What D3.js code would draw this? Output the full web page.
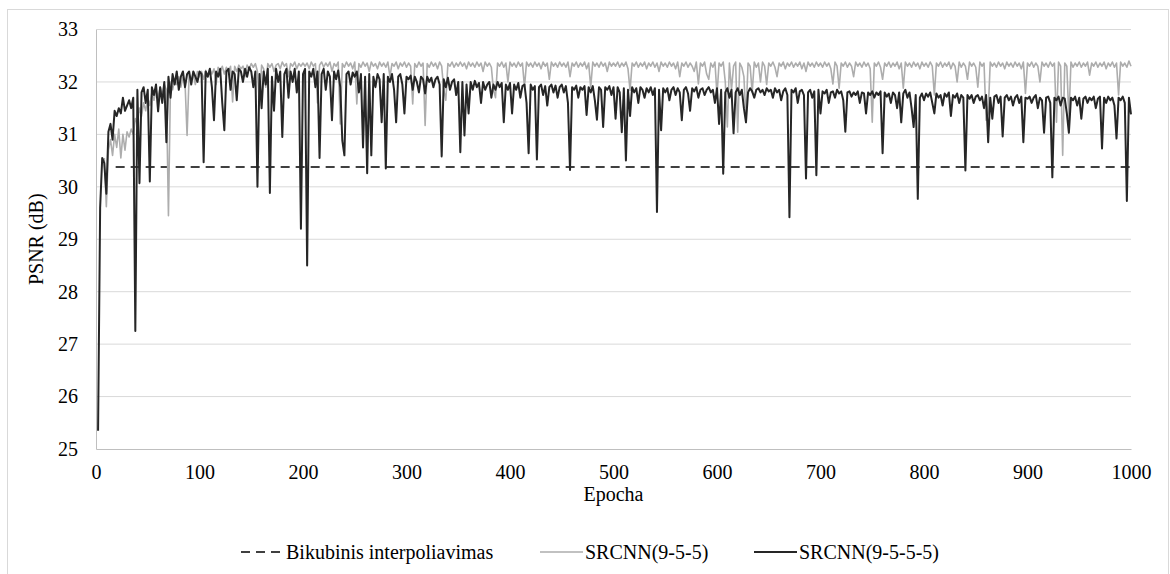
<!DOCTYPE html>
<html>
<head>
<meta charset="utf-8">
<script src="https://cdn.jsdelivr.net/npm/d3@7"></script>
<style>
  body { margin: 0; background: #fff; }
  svg, svg text { font-family: "Liberation Serif", "Times New Roman", Tinos, "DejaVu Serif", serif; }
</style>
</head>
<body>
<div class="chart"></div>
<script>
// epochs are 2, 4, ..., 1000 (one value every second epoch)
var epochStep = 2;
var serif = "'Liberation Serif', 'Times New Roman', Tinos, 'DejaVu Serif', serif";

// SRCNN(9-5-5-5) - black line
var srcnn5555 = [
  25.35, 29.6, 30.55, 30.45, 29.87, 31.05, 31.2, 30.9, 31.45, 31.35, 31.5, 31.4, 31.7, 31.45, 31.55, 31.65, 31.5, 31.7, 27.25, 31.85, 30.07, 31.8, 31.9, 31.6, 31.85,
  30.1, 31.9, 31.75, 31.95, 31.44, 31.9, 31.6, 32.0, 30.85, 32.1, 31.7, 32.15, 31.95, 32.2, 31.85, 32.1, 32.2, 31.9, 32.15, 32.2, 31.95, 32.2, 32.1, 32.0, 32.2,
  32.15, 30.47, 32.2, 32.1, 32.25, 31.9, 31.27, 32.2, 32.1, 32.25, 31.6, 31.08, 32.2, 32.25, 31.85, 32.2, 32.15, 31.65, 32.25, 32.2, 32.0, 32.25, 32.1, 32.28, 32.2,
  31.9, 32.2, 30.0, 32.15, 31.5, 32.2, 31.95, 32.25, 29.88, 32.1, 31.45, 32.25, 32.0, 32.2, 30.95, 32.15, 32.25, 31.7, 32.2, 32.0, 32.25, 31.8, 32.2, 29.2, 32.15,
  32.25, 28.5, 32.2, 32.1, 32.25, 31.9, 32.2, 30.55, 32.15, 32.25, 31.85, 32.2, 32.1, 31.27, 32.2, 32.05, 32.22, 31.9, 30.88, 30.6, 32.15, 32.2, 31.95, 32.18, 32.1,
  32.2, 31.8, 32.15, 30.75, 32.1, 30.26, 32.15, 30.6, 32.1, 31.9, 32.15, 32.05, 31.23, 32.15, 30.35, 32.1, 32.0, 32.15, 31.85, 31.23, 32.1, 32.15, 31.95, 31.4, 32.1,
  32.05, 32.12, 31.85, 32.1, 32.0, 31.8, 32.1, 32.05, 31.78, 32.1, 32.0, 32.08, 31.9, 32.05, 32.1, 31.95, 30.58, 32.05, 31.9, 32.08, 31.85, 32.0, 32.05, 31.75, 32.0,
  30.66, 32.0, 30.98, 31.95, 31.4, 32.0, 31.85, 32.02, 31.9, 31.98, 31.6, 32.0, 31.85, 31.95, 32.0, 31.7, 31.95, 31.85, 32.0, 31.9, 31.98, 31.23, 31.95, 31.85, 31.98,
  31.4, 31.95, 31.85, 31.98, 31.7, 31.92, 31.95, 31.6, 30.64, 31.95, 31.85, 31.92, 30.52, 31.9, 31.95, 31.75, 31.92, 31.55, 31.9, 31.95, 31.8, 31.93, 31.7, 31.9, 31.95,
  31.8, 31.92, 31.6, 30.32, 31.9, 31.85, 31.93, 31.7, 31.9, 31.85, 31.92, 31.37, 31.9, 31.8, 31.92, 31.65, 31.28, 31.9, 31.85, 31.14, 31.9, 31.85, 31.92, 31.75, 31.9,
  31.3, 31.9, 31.8, 31.04, 31.88, 30.5, 31.85, 31.35, 31.9, 31.8, 31.88, 31.6, 31.9, 31.85, 31.7, 31.88, 31.8, 31.9, 31.75, 31.88, 29.52, 31.85, 31.08, 31.88, 31.8,
  31.88, 31.65, 31.85, 31.9, 31.75, 31.88, 31.8, 31.27, 31.85, 31.9, 31.78, 31.45, 31.88, 31.82, 31.9, 31.7, 31.85, 31.88, 31.75, 31.85, 31.9, 31.8, 31.85, 31.6, 31.88,
  31.2, 31.85, 30.25, 31.8, 31.88, 31.7, 31.85, 31.02, 31.8, 31.88, 31.75, 31.85, 31.5, 31.23, 31.8, 31.88, 31.82, 31.7, 31.85, 31.88, 31.8, 31.85, 31.75, 31.88, 31.82,
  31.85, 31.7, 31.88, 31.8, 31.85, 31.65, 31.82, 31.88, 31.75, 29.42, 31.85, 31.8, 31.88, 31.6, 31.82, 31.85, 31.75, 30.16, 31.8, 31.85, 31.7, 31.82, 30.22, 31.85, 31.4,
  31.82, 31.78, 31.85, 31.6, 31.8, 31.82, 31.7, 31.85, 31.78, 31.82, 31.65, 31.05, 31.8, 31.82, 31.72, 31.8, 31.75, 31.82, 31.6, 31.8, 31.78, 31.4, 31.8, 31.75, 31.82,
  31.7, 31.8, 31.75, 31.82, 30.64, 31.8, 31.72, 31.78, 31.6, 31.8, 31.75, 31.5, 31.8, 31.23, 31.78, 31.85, 31.7, 31.8, 31.5, 31.14, 31.75, 29.77, 31.7, 31.78, 31.65,
  31.78, 31.72, 31.8, 31.6, 31.4, 31.78, 31.7, 31.75, 31.55, 31.78, 31.72, 31.8, 31.35, 31.75, 31.7, 31.78, 31.6, 31.75, 31.7, 30.31, 31.75, 31.68, 31.75, 31.6, 31.72,
  31.75, 31.65, 31.72, 31.5, 31.75, 30.85, 31.7, 31.3, 31.72, 31.75, 31.6, 31.72, 30.96, 31.7, 31.75, 31.65, 31.72, 31.55, 31.7, 31.75, 31.6, 31.72, 30.85, 31.7, 31.68,
  31.72, 31.6, 31.7, 31.75, 31.5, 31.7, 31.65, 31.03, 31.7, 31.72, 31.6, 30.18, 31.7, 31.65, 31.72, 31.55, 31.7, 31.68, 31.4, 31.03, 31.7, 31.65, 31.72, 31.55, 31.7,
  31.3, 31.68, 31.72, 31.6, 31.7, 31.65, 31.72, 31.5, 31.68, 31.72, 30.73, 31.7, 31.6, 31.72, 31.65, 31.7, 31.55, 30.92, 31.7, 31.65, 31.72, 31.6, 29.73, 31.7, 31.38
];

// SRCNN(9-5-5) - grey line (starts a little later)
var srcnn555 = [
  null, null, null, 30.55, 29.62, 30.7, 30.9, 30.6, 31.0, 30.75, 31.1, 30.55, 31.0, 30.7, 31.05, 30.95, 31.1, 31.0, 31.3, 31.2, 31.5, 31.35, 31.6, 31.45, 31.7,
  31.55, 31.8, 31.65, 31.85, 31.7, 31.9, 31.75, 31.95, 31.85, 29.45, 32.0, 31.85, 32.05, 31.95, 32.1, 31.9, 32.1, 32.0, 30.98, 32.15, 32.05, 32.15, 31.95, 32.2, 32.1,
  32.2, 32.05, 32.22, 32.1, 32.25, 32.15, 32.25, 31.95, 32.28, 32.2, 32.3, 32.15, 32.28, 32.2, 32.3, 31.62, 32.3, 32.2, 32.32, 32.25, 32.3, 32.1, 32.32, 32.25, 32.35,
  32.28, 32.35, 32.2, 31.55, 32.32, 32.25, 31.9, 32.35, 32.28, 32.35, 32.2, 32.32, 32.35, 32.25, 32.38, 32.3, 32.35, 32.1, 32.35, 32.3, 32.38, 32.25, 32.35, 32.3, 32.36,
  32.3, 32.36, 32.25, 32.38, 32.3, 32.35, 31.6, 32.32, 32.38, 32.28, 32.36, 32.3, 32.38, 32.2, 32.35, 32.3, 32.38, 31.2, 32.35, 32.28, 32.38, 32.3, 32.36, 32.25, 32.38,
  31.58, 32.35, 32.28, 32.38, 32.3, 32.36, 32.2, 32.38, 32.3, 32.35, 32.25, 32.38, 32.3, 32.36, 32.28, 32.38, 32.1, 32.35, 32.3, 32.38, 32.25, 32.36, 32.3, 32.38, 32.28,
  32.36, 32.3, 31.58, 32.35, 32.28, 32.38, 32.3, 32.36, 31.17, 32.35, 32.28, 32.38, 32.3, 32.36, 32.25, 32.38, 32.3, 31.85, 31.65, 32.35, 32.3, 32.38, 32.28, 32.36, 32.3,
  32.38, 32.3, 32.36, 32.25, 32.38, 32.3, 32.36, 32.28, 32.38, 32.3, 32.36, 32.2, 32.38, 32.3, 32.36, 32.28, 31.85, 31.7, 32.36, 32.3, 32.38, 32.28, 32.36, 32.0, 32.38,
  32.3, 32.36, 32.28, 32.38, 32.3, 32.36, 31.9, 32.38, 32.3, 32.36, 32.28, 32.38, 32.3, 32.36, 32.25, 32.38, 32.3, 32.36, 32.05, 32.38, 32.3, 32.36, 32.28, 32.38, 32.3,
  32.36, 32.28, 32.38, 32.1, 32.36, 32.3, 32.38, 32.28, 32.36, 32.3, 32.38, 32.25, 32.36, 31.9, 32.38, 32.3, 32.36, 32.28, 32.38, 32.3, 32.36, 32.2, 32.38, 32.3, 32.36,
  32.3, 32.38, 32.28, 32.36, 32.3, 32.38, 32.25, 31.84, 32.36, 32.3, 32.38, 32.28, 32.36, 32.3, 32.38, 32.25, 32.36, 32.3, 32.38, 32.28, 32.36, 32.2, 32.38, 32.3, 32.36,
  32.28, 32.38, 32.3, 32.36, 32.25, 32.38, 32.1, 32.36, 32.3, 32.38, 32.28, 32.36, 32.3, 32.2, 32.38, 31.96, 32.36, 32.3, 32.38, 32.15, 32.05, 32.36, 32.28, 32.38, 31.75,
  32.36, 32.3, 32.38, 32.0, 31.14, 32.36, 31.85, 32.3, 32.38, 31.04, 32.36, 32.28, 32.1, 31.3, 32.36, 32.3, 31.8, 32.38, 32.28, 32.36, 32.0, 32.38, 32.3, 31.95, 32.36,
  32.3, 32.38, 32.28, 32.1, 32.36, 32.3, 32.38, 32.25, 32.36, 32.3, 32.38, 32.28, 32.36, 32.3, 32.38, 32.25, 32.36, 32.2, 32.38, 32.3, 32.36, 32.28, 32.38, 32.3, 32.36,
  32.28, 32.38, 32.3, 32.36, 32.25, 31.96, 32.38, 32.3, 31.88, 32.36, 32.3, 32.38, 32.28, 32.36, 32.3, 32.1, 32.38, 32.3, 32.36, 32.28, 32.38, 32.3, 32.36, 32.25, 31.23,
  32.36, 32.3, 32.38, 32.28, 32.05, 32.36, 32.3, 32.38, 32.28, 32.36, 32.3, 32.38, 32.25, 32.36, 31.88, 32.38, 32.3, 32.36, 32.28, 32.38, 32.3, 32.36, 32.25, 32.38, 32.3,
  32.36, 32.28, 32.38, 32.3, 31.75, 32.36, 32.3, 32.38, 32.28, 32.36, 32.3, 32.38, 32.25, 32.36, 32.3, 32.0, 32.38, 32.28, 32.36, 32.3, 32.05, 32.38, 32.3, 32.36, 32.28,
  31.9, 32.38, 32.3, 32.36, 31.27, 31.4, 32.38, 32.3, 32.36, 32.28, 32.38, 32.3, 32.36, 32.25, 32.38, 32.3, 32.36, 32.28, 32.38, 32.3, 32.36, 32.25, 32.38, 31.78, 32.36,
  32.3, 32.38, 32.28, 32.36, 32.3, 32.0, 32.38, 32.3, 32.36, 32.28, 32.38, 32.3, 32.36, 31.23, 32.38, 32.3, 30.6, 32.36, 32.3, 31.3, 32.38, 32.28, 32.36, 32.3, 32.38,
  32.28, 32.36, 32.3, 32.38, 32.13, 32.36, 32.3, 32.38, 32.28, 32.36, 32.3, 32.38, 32.25, 32.36, 32.3, 32.38, 32.28, 32.36, 31.75, 32.38, 32.3, 32.36, 32.28, 32.4, 32.3
];

// Bikubinis interpoliavimas - flat reference level
var bicubicEpochs = [19, 1000];
var bicubicValues = [30.38, 30.38];

var yTicks = [25, 26, 27, 28, 29, 30, 31, 32, 33];
var xTicks = [0, 100, 200, 300, 400, 500, 600, 700, 800, 900, 1000];

var legendNames = ["Bikubinis interpoliavimas", "SRCNN(9-5-5)", "SRCNN(9-5-5-5)"];

// set the dimensions and margins of the graph
var margin = { top: 29.5, right: 39, bottom: 125, left: 96 },
    width = 1170 - margin.left - margin.right,
    height = 574 - margin.top - margin.bottom;

var svgRoot = d3.select(".chart")
    .append("svg")
    .attr("width", 1170)
    .attr("height", 574)
    .attr("font-family", serif);

// outer chart frame
svgRoot.append("rect")
    .attr("x", 7.5).attr("y", 9.5)
    .attr("width", 1161).attr("height", 620)
    .attr("fill", "none")
    .attr("stroke", "#d9d9d9");

var svg = svgRoot.append("g")
    .attr("transform", "translate(" + margin.left + "," + margin.top + ")");

var x = d3.scaleLinear().domain([0, 1000]).range([0, width]);
var y = d3.scaleLinear().domain([25, 33]).range([height, 0]);

// horizontal gridlines
svg.append("g")
    .selectAll("line")
    .data(yTicks.slice(1))
    .enter()
    .append("line")
    .attr("x1", 0).attr("x2", width)
    .attr("y1", function (d) { return y(d); })
    .attr("y2", function (d) { return y(d); })
    .attr("stroke", "#d9d9d9")
    .attr("stroke-width", 1);

// Y axis
var yAxis = svg.append("g")
    .call(d3.axisLeft(y).tickValues(yTicks).tickFormat(d3.format("d")).tickSize(0).tickPadding(18));
yAxis.attr("font-family", serif).attr("font-size", 20);
yAxis.select(".domain").attr("stroke", "#bfbfbf");
yAxis.selectAll("text").attr("fill", "#000");

// X axis
var xAxis = svg.append("g")
    .attr("transform", "translate(0," + height + ")")
    .call(d3.axisBottom(x).tickValues(xTicks).tickFormat(d3.format("d")).tickSize(0).tickPadding(16));
xAxis.attr("font-family", serif).attr("font-size", 20);
xAxis.select(".domain").attr("stroke", "#bfbfbf");
xAxis.selectAll("text").attr("fill", "#000");

// axis titles
svg.append("text")
    .attr("x", width / 2)
    .attr("y", height + 52)
    .attr("text-anchor", "middle")
    .attr("font-size", 20)
    .text("Epocha");

svg.append("text")
    .attr("transform", "translate(" + (-53) + "," + (height / 2) + ") rotate(-90)")
    .attr("text-anchor", "middle")
    .attr("font-size", 20)
    .text("PSNR (dB)");

var line = d3.line()
    .defined(function (d) { return d != null; })
    .x(function (d, i) { return x((i + 1) * epochStep); })
    .y(function (d) { return y(d); });

// dashed bicubic level
svg.append("path")
    .datum(bicubicValues)
    .attr("fill", "none")
    .attr("stroke", "#404040")
    .attr("stroke-width", 2)
    .attr("stroke-dasharray", "9,6")
    .attr("d", d3.line()
        .x(function (d, i) { return x(bicubicEpochs[i]); })
        .y(function (d) { return y(d); }));

// grey series
svg.append("path")
    .datum(srcnn555)
    .attr("fill", "none")
    .attr("stroke", "#adadad")
    .attr("stroke-width", 1.6)
    .attr("stroke-linejoin", "round")
    .attr("d", line);

// black series on top
svg.append("path")
    .datum(srcnn5555)
    .attr("fill", "none")
    .attr("stroke", "#262626")
    .attr("stroke-width", 2)
    .attr("stroke-linejoin", "round")
    .attr("d", line);

// legend
var legendItems = [
    { name: legendNames[0], color: "#404040", dash: "9,6", w: 2, x0: 241 },
    { name: legendNames[1], color: "#adadad", dash: null, w: 1.6, x0: 540 },
    { name: legendNames[2], color: "#262626", dash: null, w: 2, x0: 754 }
];
var legendY = 552;
var legend = svgRoot.append("g");
legendItems.forEach(function (d) {
    legend.append("line")
        .attr("x1", d.x0).attr("x2", d.x0 + 43)
        .attr("y1", legendY).attr("y2", legendY)
        .attr("stroke", d.color)
        .attr("stroke-width", d.w)
        .attr("stroke-dasharray", d.dash);
    legend.append("text")
        .attr("x", d.x0 + 45)
        .attr("y", legendY + 7)
        .attr("font-size", 20)
        .text(d.name);
});
</script>
</body>
</html>
